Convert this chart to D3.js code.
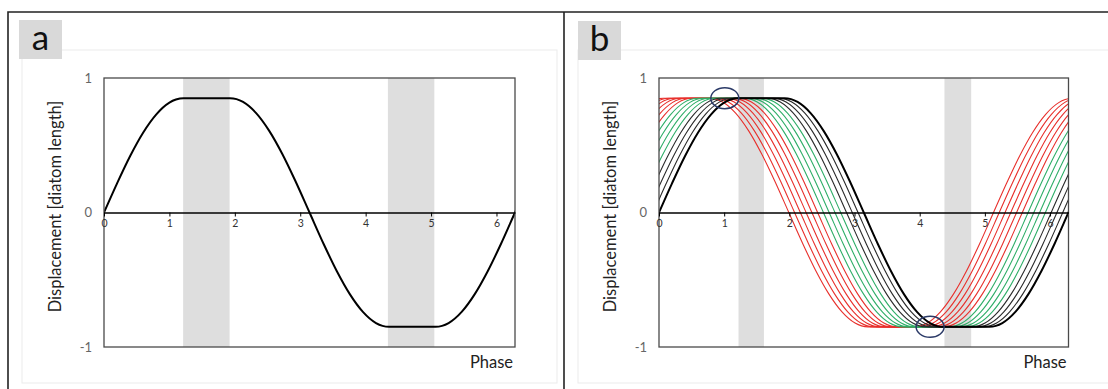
<!DOCTYPE html>
<html><head><meta charset="utf-8">
<script src="https://cdn.jsdelivr.net/npm/d3@7"></script>
<style>body{margin:0;background:#fff}svg{display:block}</style>
</head><body>
<svg id="chart" width="1108" height="389"></svg>
<script>
// ---- data ----
// one period of the displacement waveform (phase in rad, displacement in diatom lengths)
const PHASE = [0, 0.2, 0.4, 0.6, 0.8, 1.0, 1.1, 1.216, 1.571, 1.926, 2.026, 2.126, 2.326, 2.526, 2.726, 2.926, 3.142,
               3.358, 3.558, 3.758, 3.958, 4.158, 4.258, 4.358, 4.712, 5.068, 5.168, 5.268, 5.468, 5.668, 5.868, 6.068, 6.283];
const DISP  = [0, 0.217, 0.420, 0.595, 0.730, 0.817, 0.840, 0.85, 0.85, 0.85, 0.843, 0.822, 0.739, 0.607, 0.435, 0.234, 0,
               -0.234, -0.435, -0.607, -0.739, -0.822, -0.843, -0.85, -0.85, -0.85, -0.843, -0.822, -0.739, -0.607, -0.435, -0.234, 0];
// grey bands (phase ranges)
const BANDS_A = [[1.21, 1.92], [4.34, 5.05]];
const BANDS_B = [[1.22, 1.61], [4.38, 4.79]];
// panel b: phase advance of each curve and its colour group
const SHIFTS_B = [1.15, 1.062, 0.973, 0.885, 0.796, 0.708, 0.619, 0.531, 0.442, 0.354, 0.265, 0.177, 0.088, 0];
const GROUPS_B = ["red","red","red","red","red","red","green","green","green","green","black","black","black","main"];
// blue ellipses in panel b (phase, displacement)
const ELLIPSES_B = [[1.01, 0.85], [4.16, -0.85]];
const X_TICKS = [0, 1, 2, 3, 4, 5, 6];
const Y_TICKS = [-1, 0, 1];
const Y_TICK_LABELS = ["-1", "0", "1"];
const PANEL_LABELS = ["a", "b"];
const X_TITLE = "Phase";
const Y_TITLE = "Displacement [diatom length]";

// ---- styles ----
const COLORS = {red: "#e8302c", green: "#2fae68", black: "#2a2a2a", main: "#000000"};
const WIDTHS = {red: 1.1, green: 1.1, black: 1.1, main: 2};
const FONT = "Lato, 'Open Sans', sans-serif";
const TWO_PI = 2 * Math.PI;

const svg = d3.select("#chart");

// outer frame
svg.append("path").attr("d", "M8,389 V12 H1108").attr("fill", "none").attr("stroke", "#222").attr("stroke-width", 1.6);
svg.append("line").attr("x1", 564).attr("x2", 564).attr("y1", 12).attr("y2", 389).attr("stroke", "#222").attr("stroke-width", 1.6);

// periodic base series over three periods
const basePts = [];
[-1, 0, 1].forEach((k, ki) => {
  PHASE.forEach((p, i) => {
    if (ki > 0 && i === 0) return;
    basePts.push({p: p + k * TWO_PI, v: DISP[i]});
  });
});

function panel(cfg) {
  const g = svg.append("g");
  // inner chart area
  g.append("rect").attr("x", cfg.inner[0]).attr("y", cfg.inner[1]).attr("width", cfg.inner[2]).attr("height", cfg.inner[3])
    .attr("fill", "#fff").attr("stroke", "#ebebeb").attr("stroke-width", 1);
  // label box
  g.append("rect").attr("x", cfg.box[0]).attr("y", cfg.box[1]).attr("width", 43).attr("height", 39).attr("fill", "#d9d9d9");
  g.append("text").attr("x", cfg.box[0] + 21.5).attr("y", cfg.box[1] + 30).attr("text-anchor", "middle")
    .attr("font-family", FONT).attr("font-size", 35).attr("fill", "#111").text(cfg.label);

  const x = d3.scaleLinear().domain([0, TWO_PI]).range([cfg.left, cfg.right]);
  const y = d3.scaleLinear().domain([-1, 1]).range([cfg.bottom, cfg.top]);

  const clipId = "clip" + cfg.label;
  g.append("clipPath").attr("id", clipId).append("rect")
    .attr("x", cfg.left).attr("y", cfg.top).attr("width", cfg.right - cfg.left).attr("height", cfg.bottom - cfg.top);

  // bands
  g.selectAll(".band").data(cfg.bands).join("rect")
    .attr("x", d => x(d[0])).attr("width", d => x(d[1]) - x(d[0]))
    .attr("y", cfg.top).attr("height", cfg.bottom - cfg.top).attr("fill", "#dedede");

  // curves
  const cg = g.append("g").attr("clip-path", `url(#${clipId})`);
  cfg.shifts.forEach((s, i) => {
    const grp = cfg.groups[i];
    const line = d3.line().x(d => x(d.p - s)).y(d => y(d.v)).curve(d3.curveMonotoneX);
    cg.append("path").attr("d", line(basePts)).attr("fill", "none")
      .attr("stroke", COLORS[grp]).attr("stroke-width", WIDTHS[grp]);
  });

  // plot border
  g.append("rect").attr("x", cfg.left).attr("y", cfg.top).attr("width", cfg.right - cfg.left).attr("height", cfg.bottom - cfg.top)
    .attr("fill", "none").attr("stroke", "#4a4a4a").attr("stroke-width", 1.3);

  // x axis on zero line
  const xAxis = d3.axisBottom(x).tickValues(X_TICKS).tickFormat(d3.format("d")).tickSize(4).tickSizeOuter(0).tickPadding(3);
  const xa = g.append("g").attr("transform", `translate(0,${y(0)})`).call(xAxis);
  xa.select(".domain").attr("stroke", "#000").attr("stroke-width", 1.6);
  xa.selectAll(".tick line").attr("stroke", "#000").attr("stroke-width", 1);
  xa.selectAll("text").attr("font-family", FONT).attr("font-size", 10.5).attr("fill", "#333");

  // y axis labels
  const yAxis = d3.axisLeft(y).tickValues(Y_TICKS).tickFormat((d, i) => Y_TICK_LABELS[i]).tickSize(0).tickPadding(12);
  const ya = g.append("g").attr("transform", `translate(${cfg.left},0)`).call(yAxis);
  ya.select(".domain").remove();
  ya.selectAll("text").attr("font-family", FONT).attr("font-size", 13).attr("fill", "#666");

  // ellipses
  g.selectAll(".ell").data(cfg.ellipses).join("ellipse")
    .attr("cx", d => x(d[0])).attr("cy", d => y(d[1])).attr("rx", 14).attr("ry", 10.5)
    .attr("fill", "none").attr("stroke", "#2b3a67").attr("stroke-width", 1.5);

  // titles
  g.append("text").attr("transform", `translate(${cfg.left - 49},${(cfg.top + cfg.bottom) / 2 - 6}) rotate(-90)`)
    .attr("text-anchor", "middle").attr("dominant-baseline", "central")
    .attr("font-family", FONT).attr("font-size", 16.5).attr("fill", "#222").text(Y_TITLE);
  g.append("text").attr("x", cfg.right - 2).attr("y", cfg.bottom + 21).attr("text-anchor", "end")
    .attr("font-family", FONT).attr("font-size", 16.5).attr("fill", "#222").text(X_TITLE);
}

panel({label: PANEL_LABELS[0], inner: [22, 50, 535, 333], box: [19, 20], left: 104, right: 515, top: 78, bottom: 347,
       bands: BANDS_A, shifts: [0], groups: ["main"], ellipses: []});
panel({label: PANEL_LABELS[1], inner: [578, 50, 560, 333], box: [578, 21], left: 659, right: 1068.5, top: 78, bottom: 347,
       bands: BANDS_B, shifts: SHIFTS_B, groups: GROUPS_B, ellipses: ELLIPSES_B});
</script>
</body></html>
